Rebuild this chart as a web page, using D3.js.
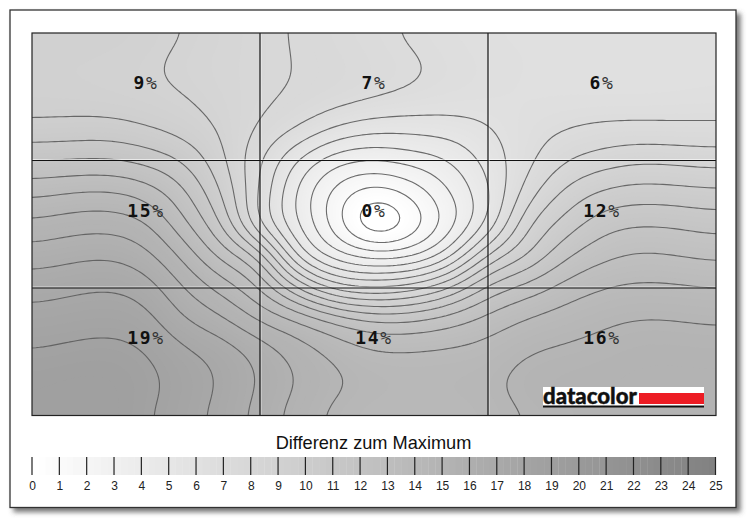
<!DOCTYPE html>
<html>
<head>
<meta charset="utf-8">
<script src="https://cdn.jsdelivr.net/npm/d3@7"></script>
<style>
  html, body { margin: 0; padding: 0; background: #fff; }
  svg { display: block; }
</style>
</head>
<body>
<script>
// difference to maximum in percent (19 columns x 13 rows)
var row0  = [10.5,10.5,10.5,10.4,10.0,9.6,9.25,8.9,8.5,8.2,7.85,7.6,7.4,7.35,7.3,7.3,7.3,7.3,7.3];
var row1  = [10.4,10.4,10.35,10.15,9.75,9.5,9.25,8.95,8.7,8.4,8.12,7.8,7.55,7.4,7.35,7.3,7.3,7.3,7.35];
var row2  = [10.55,10.5,10.4,10.25,10.02,9.6,9.2,8.85,8.5,8.15,7.85,7.6,7.45,7.35,7.35,7.35,7.35,7.4,7.45];
var row3  = [11.25,11.35,11.4,11.05,10.55,9.85,8.9,8.0,6.9,6.35,6.35,6.5,6.95,7.55,7.95,8.2,8.25,8.2,8.2];
var row4  = [13,13.05,13.1,12.7,11.9,10.2,8.1,5.9,4.3,3.95,4.4,5.0,6.4,7.65,8.9,9.5,9.85,9.75,9.6];
var row5  = [14.7,15.0,15.1,14.6,13.2,10.95,7.9,4.75,2.6,1.4,2.3,4.0,5.8,8.4,10.2,11.15,11.45,11.35,11.2];
var row6  = [16.25,16.55,16.65,16.15,14.2,12.0,7.7,5.0,2.4,-0.3,1.2,3.5,6.05,9.85,11.35,12.6,12.95,12.85,12.6];
var row7  = [17.5,17.75,17.9,17.35,15.75,13.65,12.0,6.5,4.4,3.6,3.8,5.6,9.3,10.9,12.8,13.75,14.15,14.0,13.8];
var row8  = [18.6,18.8,18.97,18.55,17.0,15.65,14.0,11.0,8.5,8.0,8.6,10.1,12.4,13.4,14.4,15.0,15.2,15.15,15.0];
var row9  = [19.4,19.55,19.65,19.4,18.05,17.2,15.9,15.0,13.85,13.0,13.0,13.6,14.4,15.1,15.5,15.85,16.05,16.0,15.9];
var row10 = [20.05,20.2,20.3,20.03,19.2,18.6,17.6,16.55,15.7,15.1,15.1,15.2,15.4,15.95,16.15,16.3,16.5,16.5,16.45];
var row11 = [20.55,20.7,20.7,20.3,19.6,18.9,17.9,16.95,16.15,15.75,15.6,15.65,15.8,16.35,16.5,16.6,16.7,16.7,16.7];
var row12 = [20.7,20.8,20.8,20.1,19.4,18.65,17.6,16.5,15.7,15.4,15.3,15.4,15.6,16.0,16.3,16.5,16.6,16.7,16.7];
var rows = [row0,row1,row2,row3,row4,row5,row6,row7,row8,row9,row10,row11,row12];

var cellLabels = [["9","7","6"],["15","0","12"],["19","14","16"]];
var contourLevels = [1,2,3,4,5,6,7,8,9,10,11,12,13,14,15,16,17,18,19,20];
var legendTicks = d3.range(0, 26);
var legendTitle = "Differenz zum Maximum";

var plotLeft = 32, plotRight = 716, plotTop = 33, plotBottom = 415.5;
var legendTop = 457, legendBottom = 475;

var svg = d3.select("body")
  .append("svg")
    .attr("width", 750)
    .attr("height", 526);

var defs = svg.append("defs");

defs.append("filter")
    .attr("id", "shadow")
    .attr("x", "-5%").attr("y", "-5%")
    .attr("width", "110%").attr("height", "110%")
  .append("feDropShadow")
    .attr("dx", 4).attr("dy", 4)
    .attr("stdDeviation", 2.5)
    .attr("flood-color", "#555")
    .attr("flood-opacity", 0.8);

defs.append("clipPath")
    .attr("id", "plot-clip")
  .append("rect")
    .attr("x", plotLeft).attr("y", plotTop)
    .attr("width", plotRight - plotLeft)
    .attr("height", plotBottom - plotTop);

// outer frame
svg.append("rect")
    .attr("x", 10).attr("y", 10)
    .attr("width", 726).attr("height", 497.5)
    .attr("fill", "#fff")
    .attr("stroke", "#333")
    .attr("stroke-width", 1.3)
    .attr("filter", "url(#shadow)");

// scales
var nCols = row0.length, nRows = rows.length;
var x = d3.scaleLinear().domain([0, nCols - 1]).range([plotLeft, plotRight]);
var y = d3.scaleLinear().domain([0, nRows - 1]).range([plotTop, plotBottom]);
var gray = d3.scaleLinear().domain([0, 25]).range([255, 128]);
var fieldGray = d3.scaleLinear().domain([1, 20.5]).range([255, 160]).clamp(true);
function toColor(g) { g = Math.round(g); return d3.rgb(g, g, g).toString(); }

// catmull-rom so the contours come out round
function cubic(a, b, c, d, t) {
  return 0.5 * (2 * b + (c - a) * t + (2 * a - 5 * b + 4 * c - d) * t * t + (3 * b - a - 3 * c + d) * t * t * t);
}
function sample(cx, cy) {
  var ix = Math.min(Math.floor(cx), nCols - 2), iy = Math.min(Math.floor(cy), nRows - 2);
  var tx = cx - ix, ty = cy - iy;
  var col = [];
  for (var j = -1; j <= 2; j++) {
    var r = rows[Math.max(0, Math.min(nRows - 1, iy + j))];
    col.push(cubic(r[Math.max(0, ix - 1)], r[ix], r[ix + 1], r[Math.min(nCols - 1, ix + 2)], tx));
  }
  return cubic(col[0], col[1], col[2], col[3], ty);
}

var sub = 10;
var w = (nCols - 1) * sub + 1, h = (nRows - 1) * sub + 1;
var field = new Float64Array(w * h);
for (var j = 0; j < h; j++) {
  for (var i = 0; i < w; i++) {
    field[i + j * w] = sample(i / sub, j / sub);
  }
}
// take out the wobble of the hand read nodes
d3.blur2({data: field, width: w}, 3.5);

var contours = d3.contours().size([w, h]).smooth(true);
var path = d3.geoPath(d3.geoTransform({
  point: function(px, py) {
    this.stream.point(x((px - 0.5) / sub), y((py - 0.5) / sub));
  }
}));

var plot = svg.append("g").attr("clip-path", "url(#plot-clip)");

plot.append("rect")
    .attr("x", plotLeft).attr("y", plotTop)
    .attr("width", plotRight - plotLeft)
    .attr("height", plotBottom - plotTop)
    .attr("fill", "#fff");

// gray fill, fine bands painted from low to high
plot.append("g")
  .selectAll("path")
    .data(contours.thresholds(d3.range(0, 22, 0.2))(field))
  .enter().append("path")
    .attr("d", path)
    .attr("fill", function(d) { return toColor(fieldGray(d.value + 0.1)); });

// iso lines
plot.append("g")
  .selectAll("path")
    .data(contours.thresholds(contourLevels)(field))
  .enter().append("path")
    .attr("d", path)
    .attr("fill", "none")
    .attr("stroke", "#5c5c5c")
    .attr("stroke-width", 1.1)
    .attr("stroke-opacity", 0.9);

// 3 x 3 measuring grid
var cellX = d3.scaleBand().domain([0, 1, 2]).range([plotLeft, plotRight]);
var cellY = d3.scaleBand().domain([0, 1, 2]).range([plotTop, plotBottom]);
var gridLines = svg.append("g");

[1, 2].forEach(function(k) {
  var gx = cellX(k), gy = cellY(k);
  gridLines.append("line")
      .attr("x1", gx + 1).attr("x2", gx + 1).attr("y1", plotTop).attr("y2", plotBottom)
      .attr("stroke", "#fff").attr("stroke-opacity", 0.6);
  gridLines.append("line")
      .attr("x1", plotLeft).attr("x2", plotRight).attr("y1", gy - 1).attr("y2", gy - 1)
      .attr("stroke", "#fff").attr("stroke-opacity", 0.6);
  gridLines.append("line")
      .attr("x1", gx).attr("x2", gx).attr("y1", plotTop).attr("y2", plotBottom)
      .attr("stroke", "#111").attr("stroke-width", 1.2);
  gridLines.append("line")
      .attr("x1", plotLeft).attr("x2", plotRight).attr("y1", gy).attr("y2", gy)
      .attr("stroke", "#111").attr("stroke-width", 1.2);
});

svg.append("rect")
    .attr("x", plotLeft).attr("y", plotTop)
    .attr("width", plotRight - plotLeft)
    .attr("height", plotBottom - plotTop)
    .attr("fill", "none")
    .attr("stroke", "#222")
    .attr("stroke-width", 1.2);

// percent labels
cellLabels.forEach(function(rowLabels, r) {
  rowLabels.forEach(function(label, c) {
    var t = svg.append("text")
        .attr("x", cellX(c) + cellX.bandwidth() / 2)
        .attr("y", cellY(r) + cellY.bandwidth() / 2 - 7.5)
        .attr("text-anchor", "middle")
        .attr("font-family", "'DejaVu Sans Mono', monospace")
        .attr("font-size", 18)
        .attr("letter-spacing", 1.6);
    t.append("tspan").attr("font-weight", "bold").attr("fill", "#111").text(label);
    t.append("tspan").attr("fill", "#333").text("%");
  });
});

// logo
var logo = svg.append("g");
logo.append("rect").attr("x", 543).attr("y", 387).attr("width", 161).attr("height", 20).attr("fill", "#fff");
logo.append("rect").attr("x", 639).attr("y", 393).attr("width", 65).attr("height", 11).attr("fill", "#ed1c24");
logo.append("rect").attr("x", 543).attr("y", 405.5).attr("width", 161).attr("height", 2).attr("fill", "#111");
logo.append("text")
    .attr("x", 543).attr("y", 403.5)
    .attr("font-family", "Lato, 'Open Sans', sans-serif")
    .attr("font-weight", 900)
    .attr("font-size", 22)
    .attr("textLength", 94)
    .attr("lengthAdjust", "spacingAndGlyphs")
    .attr("fill", "#111")
    .attr("stroke", "#111")
    .attr("stroke-width", 0.4)
    .text("datacolor");

// legend
var legendX = d3.scaleLinear().domain([0, 25]).range([plotLeft, plotRight - 0.5]);

svg.append("text")
    .attr("x", 373.5).attr("y", 449)
    .attr("text-anchor", "middle")
    .attr("font-family", "'Liberation Sans', Arial, sans-serif")
    .attr("font-size", 18.2)
    .attr("fill", "#111")
    .text(legendTitle);

svg.append("g")
  .selectAll("rect")
    .data(d3.range(0, 25, 0.25))
  .enter().append("rect")
    .attr("x", function(d) { return legendX(d); })
    .attr("y", legendTop)
    .attr("width", legendX(0.25) - legendX(0) + 0.3)
    .attr("height", legendBottom - legendTop)
    .attr("fill", function(d) { return toColor(gray(d)); });

var legendAxis = d3.axisBottom(legendX)
    .tickValues(legendTicks)
    .tickFormat(d3.format("d"))
    .tickSize(0)
    .tickPadding(6);

var axisG = svg.append("g")
    .attr("transform", "translate(0," + legendBottom + ")")
    .call(legendAxis);
axisG.select(".domain").remove();
axisG.selectAll("text")
    .attr("font-family", "'Liberation Sans', Arial, sans-serif")
    .attr("font-size", 12)
    .attr("fill", "#222");

svg.append("g")
  .selectAll("line")
    .data(legendTicks)
  .enter().append("line")
    .attr("x1", function(d) { return legendX(d); })
    .attr("x2", function(d) { return legendX(d); })
    .attr("y1", legendTop)
    .attr("y2", legendBottom)
    .attr("stroke", "#222")
    .attr("stroke-width", 1.2);
</script>
</body>
</html>
